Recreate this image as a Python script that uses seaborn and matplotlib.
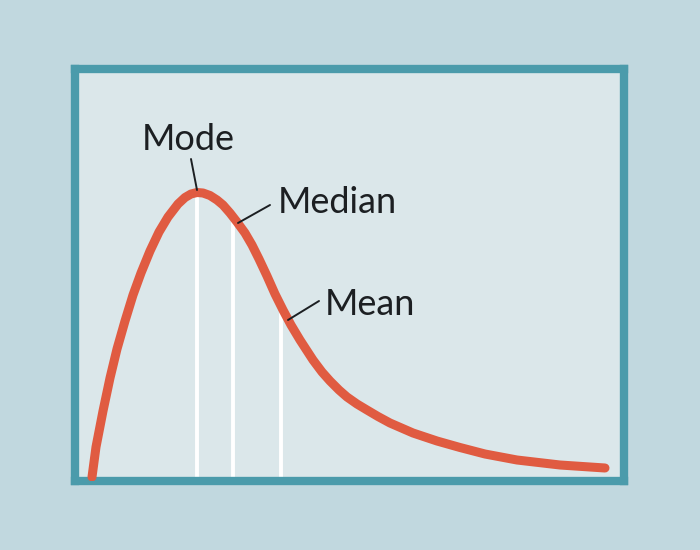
import numpy as np
import pandas as pd
import matplotlib
matplotlib.use("Agg")
import matplotlib.pyplot as plt
import seaborn as sns

# right-skewed density curve
curve_x = [17, 21, 28, 35, 42, 50, 58, 66, 75, 84, 93, 103, 110, 116, 122, 128,
           135, 142, 148, 155, 162, 170, 177, 184, 192, 200, 208, 216, 225, 238,
           247, 255, 264, 272, 282, 292, 303, 315, 338, 362, 385, 410, 442, 485, 530]
curve_y = [4, 34, 70, 103, 132, 160, 186, 208, 230, 249, 264, 277, 283.5, 287, 288.5, 288,
           285.5, 281, 276, 268, 259, 248, 236, 222, 205, 187, 171, 156, 141, 121,
           109, 100, 91, 84, 77, 71, 64.5, 58, 48, 40, 33.5, 27, 21, 16, 13]

stat_names = ["Mode", "Median", "Mean"]
stat_x = [122, 158, 206]
stat_y = [288.5, 264, 175]

# label text anchors and leader lines (start -> end on curve)
text_pos = [(113, 331), (203, 268), (250, 166)]
leader_from = [(116, 322), (195, 276), (244, 180)]
leader_to = [(122, 291), (163, 258), (213, 161)]

outer_bg = "#c1d8df"
inner_bg = "#dbe7ea"
frame_col = "#4b9bab"
curve_col = "#e05b41"
text_col = "#1c1f22"

sns.set_theme(style="white")
plt.rcParams['font.family'] = ['Lato', 'DejaVu Sans']

df = pd.DataFrame({"x": curve_x, "y": curve_y})

fig = plt.figure(figsize=(7, 5.5), dpi=100, facecolor=outer_bg)
ax = fig.add_axes([75/700, 69/550, 549/700, 412/550])
ax.set_facecolor(inner_bg)

ax.vlines(stat_x, 0, stat_y, color="white", linewidth=2.8, zorder=2)
sns.lineplot(data=df, x="x", y="y", ax=ax, color=curve_col, linewidth=6.5,
             solid_capstyle="round", solid_joinstyle="round", zorder=3)

for name, tp, lf, lt in zip(stat_names, text_pos, leader_from, leader_to):
    ax.annotate("", xy=lt, xytext=lf,
                arrowprops=dict(arrowstyle="-", color=text_col, lw=1.4,
                                shrinkA=0, shrinkB=0), zorder=4)
    ha = "center" if name == "Mode" else "left"
    ax.text(tp[0], tp[1], name, ha=ha, va="baseline", fontsize=26,
            color=text_col, zorder=5)

ax.set_xlim(0, 549)
ax.set_ylim(0, 412)
ax.set_xticks([])
ax.set_yticks([])
ax.set_xlabel(None)
ax.set_ylabel(None)
for s in ax.spines.values():
    s.set_visible(True)
    s.set_color(frame_col)
    s.set_linewidth(6)

fig.savefig("out.png", dpi=100, facecolor=outer_bg)
